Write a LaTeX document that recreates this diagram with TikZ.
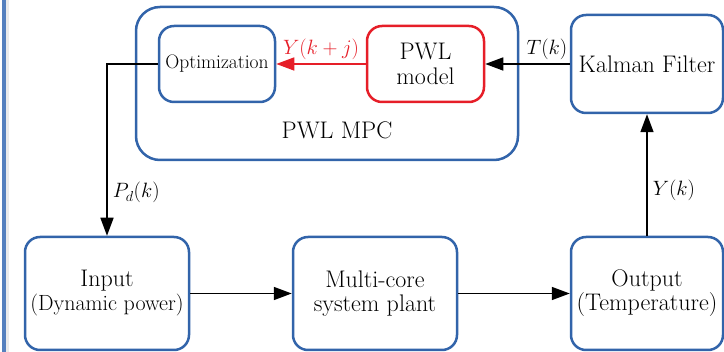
\documentclass[tikz,border=0pt]{standalone}
\usetikzlibrary{arrows.meta}
\definecolor{boxblue}{RGB}{50,100,170}
\definecolor{barblue}{RGB}{85,128,190}
\definecolor{modelred}{RGB}{230,30,40}
\tikzset{
  blk/.style={draw=boxblue, line width=2.5pt, rounded corners=15pt, align=center,
    font=\fontsize{24}{26}\selectfont, inner sep=0pt},
  redblk/.style={blk, draw=modelred},
  conn/.style={line width=1.6pt, -{Triangle[length=18pt,width=13pt]}},
  lbl/.style={font=\fontsize{21.5}{23}\selectfont, inner sep=1pt},
}
\begin{document}
\begin{tikzpicture}[x=1pt,y=-1pt]
\useasboundingbox (0,0) rectangle (724,352);
% frame edge on the left
\fill[black!8] (6,0) rectangle (9,352);
\draw[barblue, line width=4pt] (4,0) -- (4,352);

% MPC container
\node[blk, rounded corners=24pt, minimum width=382pt, minimum height=153pt] (mpc) at (327,83.5) {};
\node[font=\fontsize{24}{26}\selectfont] (mpclbl) at (337,130) {PWL MPC};

% blocks
\node[blk, font=\fontsize{19.5}{21}\selectfont, minimum width=116pt, minimum height=76pt] (opt) at (217,64) {Optimization};
\node[redblk, minimum width=117pt, minimum height=76pt] (pwl) at (425.5,64) {PWL\\[-1pt]model};
\node[blk, minimum width=152pt, minimum height=98pt] (kal) at (647,64) {Kalman Filter};
\node[blk, minimum width=164pt, minimum height=113pt] (inp) at (107,293.5) {Input\\[-2pt]{\fontsize{22}{24}\selectfont (Dynamic power)}};
\node[blk, minimum width=164pt, minimum height=113pt] (mc) at (375,293.5) {Multi-core\\[-2pt]system plant};
\node[blk, minimum width=152pt, minimum height=113pt] (out) at (647,293.5) {Output\\[-2pt](Temperature)};

% connectors
\coordinate (turn) at (107,64);
\draw[conn] (kal.west) -- (pwl.east) node[lbl, pos=0.27, above=3pt] {$T(k)$};
\draw[conn, modelred] (pwl.west) -- (opt.east) node[lbl, midway, above=3pt, text=modelred] {$Y(k+j)$};
\draw[conn] (opt.west) -- (turn) -- (inp.north) node[lbl, pos=0.75, right=4pt] {$P_d(k)$};
\draw[conn] (inp.east) -- (mc.west);
\draw[conn] (mc.east) -- (out.west);
\draw[conn] (out.north) -- (kal.south) node[lbl, pos=0.37, right=4pt] {$Y(k)$};
\end{tikzpicture}
\end{document}
